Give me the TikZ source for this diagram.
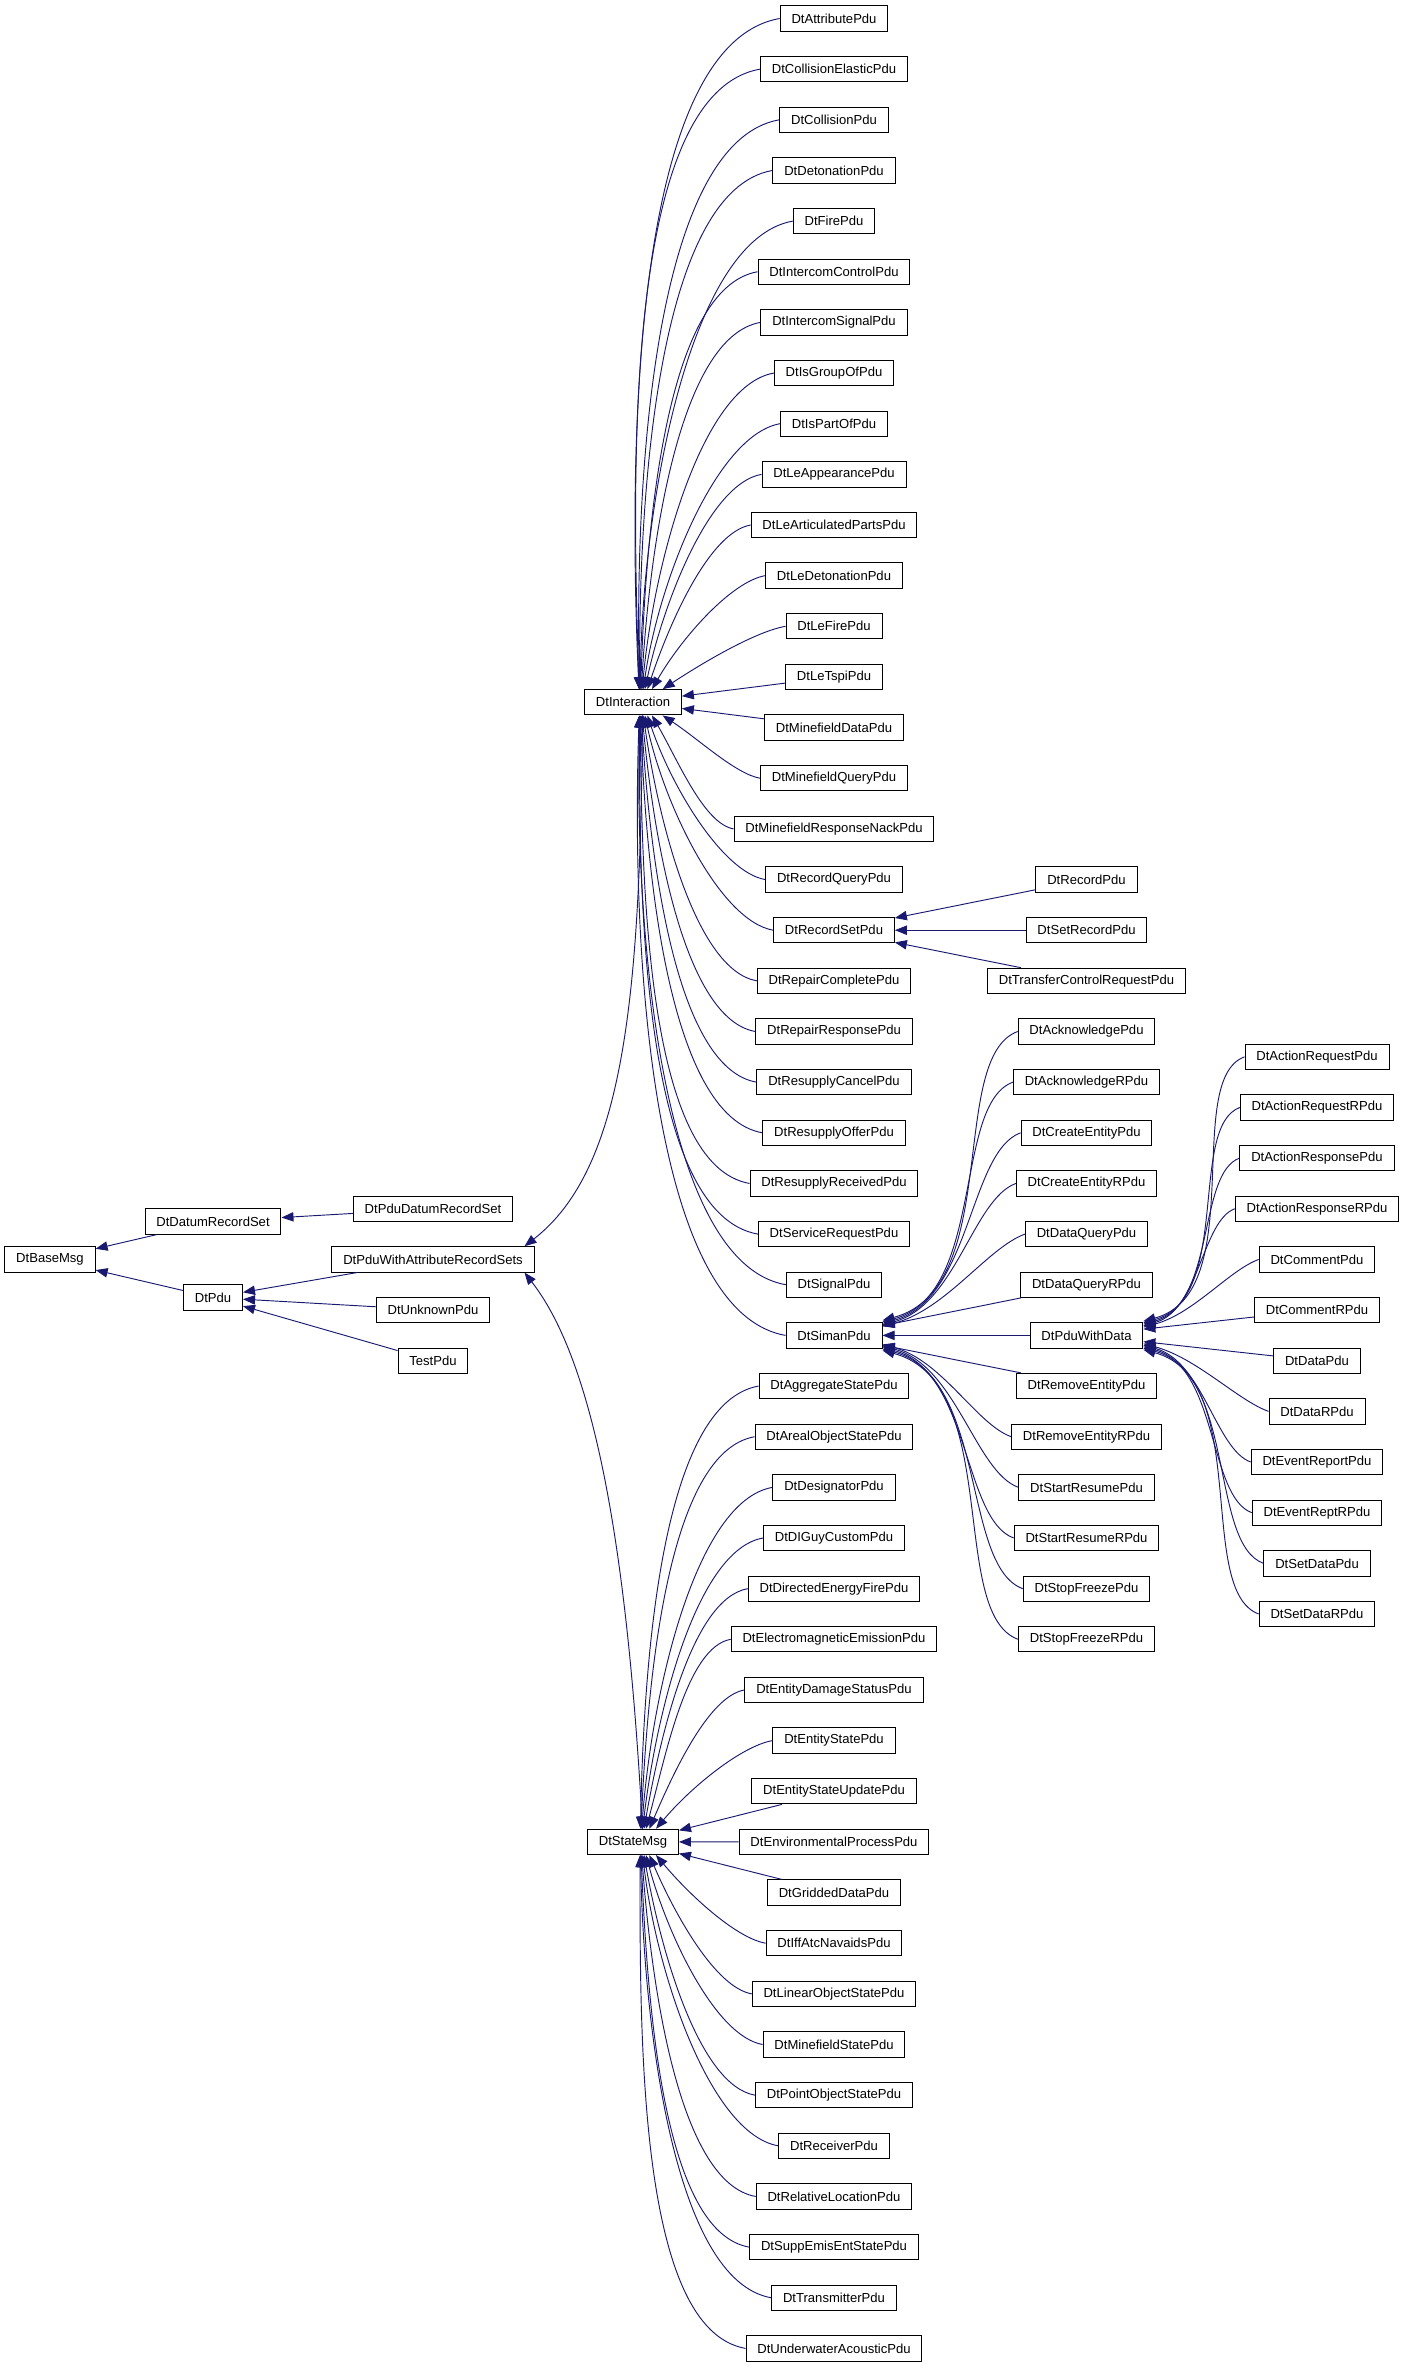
\documentclass[tikz,border=0pt]{standalone}
\usepackage{fontspec}
\setmainfont{Liberation Sans}
\usetikzlibrary{arrows.meta,calc}
\definecolor{edgeblue}{RGB}{25,25,112}

\begin{document}
\begin{tikzpicture}[x=0.75pt, y=0.75pt, >={Triangle[length=9pt,width=7pt]}]
    \tikzstyle{every node} = [font=\fontsize{9.8}{11}\selectfont]
    \tikzstyle{cls} = [draw=black, line width=0.75pt, fill=white, rectangle, minimum height=19pt, inner xsep=8.5pt, inner ysep=1pt]
    \tikzstyle{inh} = [->, draw=edgeblue, line width=0.7pt]
    \useasboundingbox (0,0) rectangle (1405,-2368);

    \node (DtBaseMsg) [cls] at (50,-1259.4) {DtBaseMsg};
    \node (DtDatumRecordSet) [cls] at (213,-1221.5) {DtDatumRecordSet};
    \node (DtPdu) [cls] at (213,-1297.5) {DtPdu};
    \node (DtPduDatumRecordSet) [cls] at (433,-1208.8) {DtPduDatumRecordSet};
    \node (DtPduWithAttributeRecordSets) [cls] at (433,-1259.4) {DtPduWithAttributeRecordSets};
    \node (DtUnknownPdu) [cls] at (433,-1310) {DtUnknownPdu};
    \node (TestPdu) [cls] at (433,-1360.7) {TestPdu};
    \node (DtInteraction) [cls] at (633,-702.3) {DtInteraction};
    \node (DtStateMsg) [cls] at (633,-1841.9) {DtStateMsg};

    \draw [inh] (DtDatumRecordSet) -- (DtBaseMsg);
    \draw [inh] (DtPdu) -- (DtBaseMsg);
    \draw [inh] (DtPduDatumRecordSet) -- (DtDatumRecordSet);
    \foreach \n in {DtPduWithAttributeRecordSets, DtUnknownPdu, TestPdu}
        \draw [inh] (\n) -- (DtPdu);
    \draw [inh] ($(DtInteraction.south)+(9.5,0)$) .. controls +(-2,-285) and +(99,77) .. ($(DtPduWithAttributeRecordSets.north east)+(-10,0)$);
    \draw [inh] ($(DtStateMsg.north)+(9.5,0)$) .. controls +(-15,280) and +(70,-90) .. ($(DtPduWithAttributeRecordSets.south east)+(-10,0)$);

    % messages under DtInteraction (rows 0-26) and DtStateMsg (rows 27-46)
    \foreach \n [count=\i from 0] in {DtAttributePdu, DtCollisionElasticPdu, DtCollisionPdu, DtDetonationPdu,
        DtFirePdu, DtIntercomControlPdu, DtIntercomSignalPdu, DtIsGroupOfPdu, DtIsPartOfPdu,
        DtLeAppearancePdu, DtLeArticulatedPartsPdu, DtLeDetonationPdu, DtLeFirePdu, DtLeTspiPdu,
        DtMinefieldDataPdu, DtMinefieldQueryPdu, DtMinefieldResponseNackPdu, DtRecordQueryPdu,
        DtRecordSetPdu, DtRepairCompletePdu, DtRepairResponsePdu, DtResupplyCancelPdu,
        DtResupplyOfferPdu, DtResupplyReceivedPdu, DtServiceRequestPdu, DtSignalPdu, DtSimanPdu,
        DtAggregateStatePdu, DtArealObjectStatePdu, DtDesignatorPdu, DtDIGuyCustomPdu,
        DtDirectedEnergyFirePdu, DtElectromagneticEmissionPdu, DtEntityDamageStatusPdu,
        DtEntityStatePdu, DtEntityStateUpdatePdu, DtEnvironmentalProcessPdu, DtGriddedDataPdu,
        DtIffAtcNavaidsPdu, DtLinearObjectStatePdu, DtMinefieldStatePdu, DtPointObjectStatePdu,
        DtReceiverPdu, DtRelativeLocationPdu, DtSuppEmisEntStatePdu, DtTransmitterPdu,
        DtUnderwaterAcousticPdu} {
        \node (\n) [cls] at (834,{-18.5-50.65*\i}) {\n};
        \ifnum\i<27 \def\base{DtInteraction}\def\baserow{13.5}\else \def\base{DtStateMsg}\def\baserow{36}\fi
        \pgfmathsetmacro\k{abs(\i-\baserow)}
        \ifdim\k pt<1.2pt
            \draw [inh] (\n) -- (\base);
        \else
            \pgfmathsetmacro\ang{100-100/\k}
            \pgfmathsetmacro\tipx{3+40/\k}
            \ifdim\i pt<\baserow pt
                \draw [inh] (\n.west) to[out=190, in=\ang, out looseness=0.55, in looseness=0.95] ($(\base.north)+(\tipx,0)$);
            \else
                \draw [inh] (\n.west) to[out=170, in=-\ang, out looseness=0.55, in looseness=0.95] ($(\base.south)+(\tipx,0)$);
            \fi
        \fi
    }

    \foreach \n [count=\i from 17] in {DtRecordPdu, DtSetRecordPdu, DtTransferControlRequestPdu} {
        \node (\n) [cls] at (1086.5,{-18.5-50.65*\i}) {\n};
        \draw [inh] (\n) -- (DtRecordSetPdu);
    }

    % children of DtSimanPdu
    \foreach \n [count=\i from 20] in {DtAcknowledgePdu, DtAcknowledgeRPdu, DtCreateEntityPdu,
        DtCreateEntityRPdu, DtDataQueryPdu, DtDataQueryRPdu, DtPduWithData, DtRemoveEntityPdu,
        DtRemoveEntityRPdu, DtStartResumePdu, DtStartResumeRPdu, DtStopFreezePdu, DtStopFreezeRPdu} {
        \node (\n) [cls] at (1086.5,{-18.5-50.65*\i}) {\n};
        \pgfmathsetmacro\k{abs(\i-26)}
        \ifdim\k pt<1.2pt
            \draw [inh] (\n) -- (DtSimanPdu);
        \else\ifnum\i<26
            \draw [inh] (\n.west) to[out=200, in=15, out looseness=0.6] ($(DtSimanPdu.east)+(0,6+1.5*\k)$);
        \else
            \draw [inh] (\n.west) to[out=160, in=-15, out looseness=0.6] ($(DtSimanPdu.east)-(0,6+1.5*\k)$);
        \fi\fi
    }

    % children of DtPduWithData
    \foreach \n [count=\i from 20] in {DtActionRequestPdu, DtActionRequestRPdu, DtActionResponsePdu,
        DtActionResponseRPdu, DtCommentPdu, DtCommentRPdu, DtDataPdu, DtDataRPdu, DtEventReportPdu,
        DtEventReptRPdu, DtSetDataPdu, DtSetDataRPdu} {
        \node (\n) [cls] at (1317,{-18.5-50.65*(\i+0.5)}) {\n};
        \pgfmathsetmacro\k{abs(\i+0.5-26)}
        \ifdim\k pt<1.2pt
            \draw [inh] (\n) -- (DtPduWithData);
        \else\ifnum\i<26
            \draw [inh] (\n.west) to[out=200, in=15, out looseness=0.6] ($(DtPduWithData.east)+(0,6+1.5*\k)$);
        \else
            \draw [inh] (\n.west) to[out=160, in=-15, out looseness=0.6] ($(DtPduWithData.east)-(0,6+1.5*\k)$);
        \fi\fi
    }
\end{tikzpicture}
\end{document}
